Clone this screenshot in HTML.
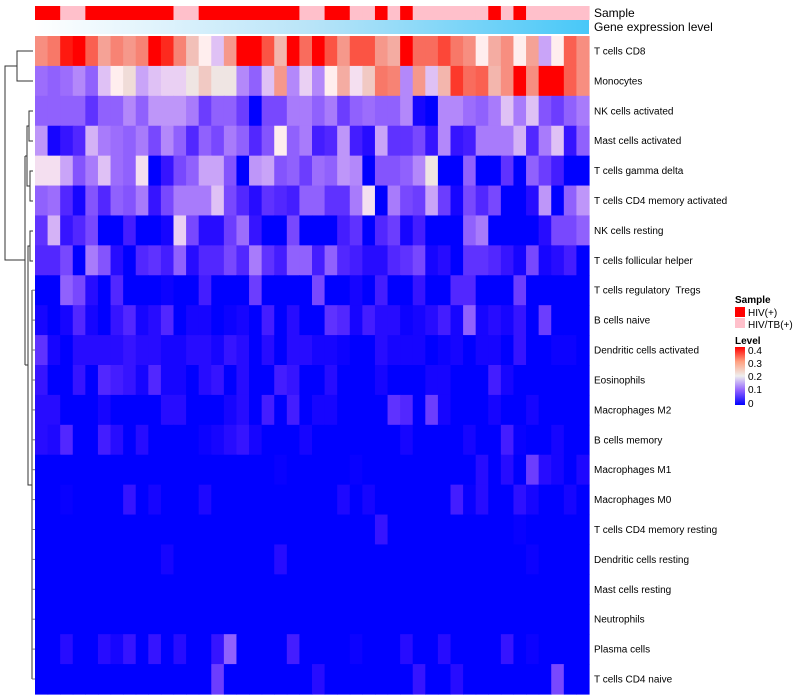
<!DOCTYPE html>
<html><head><meta charset="utf-8"><style>
html,body{margin:0;padding:0;background:#fff;}
svg{display:block;font-family:"Liberation Sans",sans-serif;}
</style></head><body>
<svg id="chart" width="800" height="700" xmlns="http://www.w3.org/2000/svg">
<defs>
<linearGradient id="geneGrad" x1="0" x2="1" y1="0" y2="0"><stop offset="0" stop-color="#ffffff"/><stop offset="0.5" stop-color="#b8e4f8"/><stop offset="1" stop-color="#48c8f8"/></linearGradient>
<linearGradient id="levelGrad" x1="0" x2="0" y1="1" y2="0"><stop offset="0" stop-color="#0000ff"/><stop offset="0.25" stop-color="#9060ff"/><stop offset="0.5" stop-color="#eeeeee"/><stop offset="0.75" stop-color="#ffa080"/><stop offset="1" stop-color="#ff0000"/></linearGradient>
</defs>
<g id="dendro" stroke="#333" stroke-width="1" fill="none">
<path d="M33,51H17V81H33 M17,66H5V260H25 M25,156V365 M33,111H29V141H33 M33,171H30V201H33 M29,126H27V186H30 M27,156H25 M33,231H30V261H33 M30,246H28V485H32 M28,365H25 M32,290V679"/>
</g>
<g id="leaves" stroke="#777" stroke-width="1"></g>
<rect x="35" y="20" width="554" height="14" fill="url(#geneGrad)"/>
<g id="cells"></g>
<g id="sampleBar"></g>
<text x="594" y="17" font-size="12">Sample</text>
<text x="594" y="31" font-size="12">Gene expression level</text>
<g id="labels" font-size="10" fill="#000"></g>
<g font-size="10">
<text x="735" y="303" font-weight="bold">Sample</text>
<rect x="735" y="307" width="10" height="10" fill="#ff0000"/>
<text x="748" y="316">HIV(+)</text>
<rect x="735" y="318" width="10" height="10" fill="#ffc0cb"/>
<text x="748" y="328">HIV/TB(+)</text>
<text x="735" y="344" font-weight="bold">Level</text>
<rect x="735" y="347" width="10" height="58" fill="url(#levelGrad)"/>
<text x="748" y="354">0.4</text>
<text x="748" y="367">0.3</text>
<text x="748" y="380">0.2</text>
<text x="748" y="393">0.1</text>
<text x="748" y="407">0</text>
</g>
</svg>
<script>
const rowLabels=["T cells CD8","Monocytes","NK cells activated","Mast cells activated","T cells gamma delta","T cells CD4 memory activated","NK cells resting","T cells follicular helper","T cells regulatory\u00A0 Tregs","B cells naive","Dendritic cells activated","Eosinophils","Macrophages M2","B cells memory","Macrophages M1","Macrophages M0","T cells CD4 memory resting","Dendritic cells resting","Mast cells resting","Neutrophils","Plasma cells","T cells CD4 naive"];
const sampleGroups=["H","H","T","T","H","H","H","H","H","H","H","T","T","H","H","H","H","H","H","H","H","T","T","H","H","T","T","H","T","H","T","T","T","T","T","T","H","T","H","T","T","T","T","T"];
const r0=[.30,.32,.39,.40,.34,.28,.31,.29,.31,.40,.38,.31,.25,.20,.17,.29,.40,.40,.35,.26,.40,.33,.40,.35,.29,.35,.35,.29,.27,.40,.33,.33,.36,.32,.30,.20,.27,.30,.20,.28,.15,.20,.34,.30];
const r1=[.11,.10,.11,.13,.10,.17,.20,.22,.15,.17,.18,.18,.21,.24,.21,.21,.13,.10,.17,.29,.13,.18,.13,.20,.27,.19,.24,.32,.31,.13,.29,.17,.26,.37,.33,.34,.26,.30,.40,.30,.40,.40,.34,.30];
const r2=[.10,.10,.10,.10,.06,.10,.10,.13,.10,.14,.14,.14,.12,.07,.10,.10,.07,0,.08,.08,.12,.12,.10,.12,.07,.10,.11,.10,.10,.13,.01,0,.13,.13,.11,.10,.12,.17,.12,.17,.09,.07,.10,.12];
const r3=[.14,.01,.03,.05,.16,.12,.11,.10,.12,.08,.13,.10,.05,.10,.08,.12,.10,.05,.09,.20,.10,.12,.04,.05,.14,.04,.02,.15,.06,.06,.08,.03,.13,.03,.04,.12,.12,.12,.16,.05,.12,.17,.03,.10];
const r4=[.19,.19,.15,.09,.12,.17,.11,.10,.19,0,.03,.08,.10,.15,.15,.09,0,.14,.15,.09,.10,.07,.11,.10,.14,.13,0,.09,.09,.10,.13,.21,0,0,.10,0,0,.06,0,.10,.07,.04,0,0];
const r5=[.10,.11,.05,.01,.09,.05,.10,.09,.12,.03,.08,.12,.12,.12,.17,.08,.05,.02,.06,.05,.04,.10,.10,.06,.06,.12,.19,0,.12,.08,.07,.15,.07,.01,.08,.05,.08,0,0,.02,.14,0,.10,.14];
const r6=[.06,.16,.03,.05,.08,0,0,.04,0,0,.01,.18,.08,.02,.02,.07,.11,.03,0,0,.08,0,0,0,.04,.06,0,.05,.07,.01,.04,0,0,0,.10,.12,0,0,0,0,.02,.08,.08,.10];
const r7=[.05,.05,.08,0,.12,.09,.02,0,.05,.06,.04,.10,.02,.05,.05,.08,.05,.12,.06,.04,.10,.10,.04,.10,.05,.04,.02,.02,.05,.06,.08,.01,.02,0,.06,.06,.05,.03,.01,.08,.01,.02,.04,0];
const r8=[0,0,.10,.08,.02,0,.05,0,0,0,.005,0,0,.04,0,0,0,.07,0,0,0,0,.08,0,0,.01,0,.04,0,0,.03,0,0,.05,.05,0,0,0,.07,0,0,0,0,0];
const r9=[.01,0,.01,.05,.01,0,.03,.05,.01,.02,.05,0,.01,.01,0,.005,.01,0,.04,0,.02,0,0,.06,.05,.01,.04,.02,.02,.005,.01,.02,.04,.01,.10,.01,.02,.01,.03,0,.07,0,0,0];
const r10=[.06,.01,0,.02,.02,.02,.02,.03,.02,.02,.01,.01,.02,.02,.01,.03,.02,0,.02,0,.02,.02,.01,.01,.005,0,0,.02,.01,.01,.01,0,.005,.01,0,.01,.01,0,.03,0,0,.005,.005,0];
const r11=[.03,0,0,.03,0,.05,.04,.03,.01,.05,.01,.01,0,.02,.03,0,.02,0,0,.04,.03,0,0,.02,0,0,0,.01,0,0,0,.01,.01,0,0,0,.04,.01,0,0,0,0,0,0];
const r12=[.02,.02,0,0,0,.01,0,0,0,0,.02,.02,0,0,0,.01,.02,0,.04,0,.04,0,.01,.01,0,0,0,0,.06,.05,0,.07,.01,0,0,0,.01,0,0,.01,0,0,0,0];
const r13=[.02,.015,.05,0,0,.04,.02,0,.02,0,0,0,0,.005,.01,.02,.03,.01,0,0,0,.01,0,0,0,0,0,0,0,.01,0,0,0,0,.01,0,0,.04,.003,0,0,.01,0,0];
const r14=[0,0,0,0,0,0,0,0,0,0,0,0,0,0,0,0,0,0,0,.003,0,0,0,0,0,.003,0,0,0,0,0,0,0,0,0,.02,0,.02,0,.07,.02,.01,0,.015];
const r15=[0,0,.003,0,0,0,0,.03,0,.01,0,0,0,.015,0,0,0,0,0,0,0,0,0,0,.015,0,.01,0,0,0,0,0,0,.04,.003,.02,0,0,.025,.01,0,0,.01,0];
const r16=[0,0,0,0,0,0,0,0,0,0,0,0,0,0,0,0,0,0,0,0,0,0,0,0,0,0,0,.03,0,0,0,0,0,0,0,0,0,0,.003,0,0,0,0,0];
const r17=[0,0,0,0,0,0,0,0,0,0,.01,0,0,0,0,0,0,0,0,.02,0,0,0,0,0,0,0,0,0,0,0,0,0,0,0,0,0,0,0,.005,0,0,0,0];
const r18=[0,0,0,0,0,0,0,0,0,0,0,0,0,0,0,0,0,0,0,0,0,0,0,0,0,0,0,0,0,0,0,0,0,0,0,0,0,0,0,0,0,0,0,0];
const r19=[0,0,0,0,0,0,0,0,0,0,0,0,0,0,0,0,0,0,0,0,0,0,0,0,0,0,0,0,0,0,0,0,0,0,0,0,0,0,0,0,0,0,0,0];
const r20=[0,0,.02,0,0,.02,.01,.03,0,.03,0,.02,0,0,.03,.10,0,0,0,0,.04,0,0,0,0,.005,0,0,0,.02,0,0,.02,0,0,0,0,.03,0,.005,0,0,0,0];
const r21=[0,0,0,0,0,0,0,0,0,0,0,0,0,0,.07,0,0,0,0,0,0,0,.02,0,0,0,0,0,0,0,.03,0,0,.02,0,0,0,0,0,0,0,.08,0,0];
const rows=[r0,r1,r2,r3,r4,r5,r6,r7,r8,r9,r10,r11,r12,r13,r14,r15,r16,r17,r18,r19,r20,r21];

const NS="http://www.w3.org/2000/svg";
const X0=35,X1=589,Y0=36,Y1=694;
const nCol=sampleGroups.length,nRow=rowLabels.length;
const cw=(X1-X0)/nCol,rh=(Y1-Y0)/nRow;
function xPos(c){return X0+c*cw;}
function yPos(r){return Y0+r*rh;}
function color(v){
  v=Math.max(0,Math.min(0.4,v));
  let r,g,b;
  if(v<=0.2){const t=v/0.2;r=255*Math.pow(t,0.82);g=238*Math.pow(t,1.3);b=255-17*t*t*t;}
  else{const s=(v-0.2)/0.2;r=238+17*s;g=238*Math.pow(1-s,0.75);b=238*Math.pow(1-s,0.9);}
  return "rgb("+Math.round(r)+","+Math.round(g)+","+Math.round(b)+")";
}
const cells=document.getElementById("cells");
rows.forEach(function(vals,ri){
  for(let ci=0;ci<nCol;ci++){
    const v=vals[ci]||0;
    const el=document.createElementNS(NS,"rect");
    
    
    el.setAttribute("x",xPos(ci).toFixed(2));
    el.setAttribute("y",yPos(ri).toFixed(2));
    el.setAttribute("width",(cw+0.6).toFixed(2));
    el.setAttribute("height",(rh+0.6).toFixed(2));
    el.setAttribute("fill",color(v));
    cells.appendChild(el);
  }
});
const sb=document.getElementById("sampleBar");
sampleGroups.forEach(function(g,ci){
  const el=document.createElementNS(NS,"rect");
  
  
  el.setAttribute("x",xPos(ci).toFixed(2));
  el.setAttribute("y","6");
  el.setAttribute("width",(cw+0.6).toFixed(2));
  el.setAttribute("height","14");
  el.setAttribute("fill",g==="H"?"#ff0000":"#ffc0cb");
  sb.appendChild(el);
});
const lg=document.getElementById("labels");
const lv=document.getElementById("leaves");
rowLabels.forEach(function(lab,ri){
  const yc=yPos(ri)+rh/2;
  const t=document.createElementNS(NS,"text");
  
  
  t.setAttribute("x","594");
  t.setAttribute("y",(yc+3.5).toFixed(1));
  t.textContent=lab;
  lg.appendChild(t);
  if(ri>=8){
    const l=document.createElementNS(NS,"line");
    
    
    l.setAttribute("x1","32");l.setAttribute("x2","35");
    l.setAttribute("y1",yc.toFixed(1));l.setAttribute("y2",yc.toFixed(1));
    lv.appendChild(l);
  }
});
</script>
</body></html>
